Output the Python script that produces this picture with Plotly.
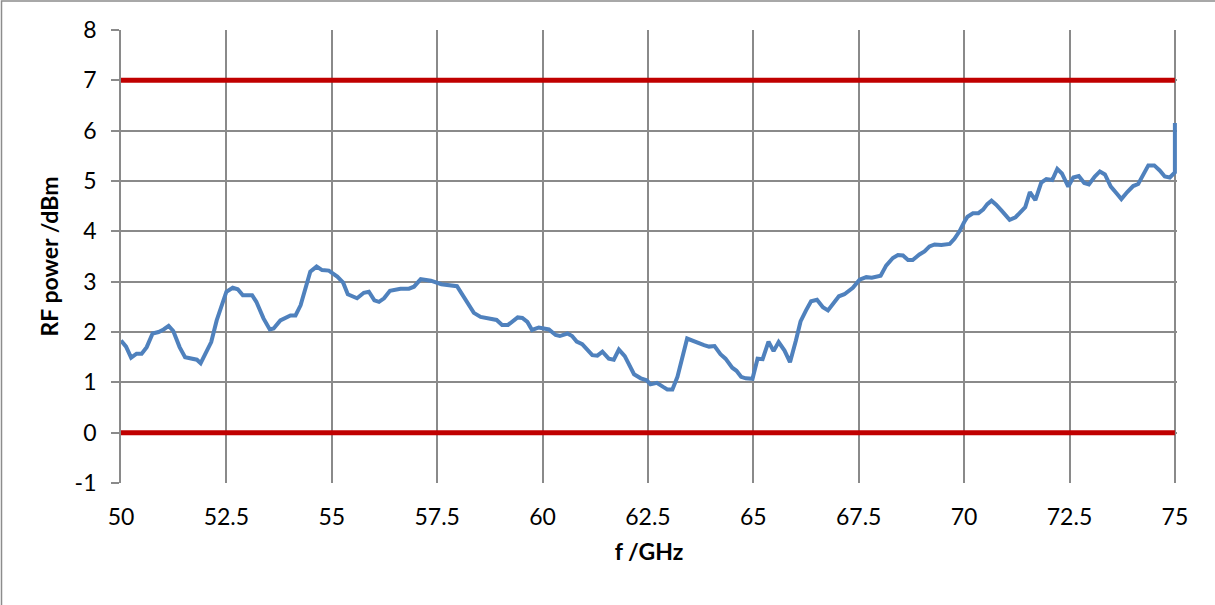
import plotly.graph_objects as go

# ---- data ----
freq_ghz = [
    50.00, 50.12, 50.24, 50.37, 50.49, 50.61, 50.75, 50.89, 51.01, 51.13,
    51.24, 51.39, 51.52, 51.68, 51.80, 51.89, 52.02, 52.14, 52.27, 52.50,
    52.65, 52.77, 52.89, 53.11, 53.21, 53.38, 53.53, 53.62, 53.78, 54.02,
    54.14, 54.26, 54.49, 54.64, 54.77, 54.93, 55.13, 55.27, 55.38, 55.60,
    55.76, 55.88, 56.01, 56.12, 56.24, 56.38, 56.63, 56.83, 56.95, 57.11,
    57.35, 57.60, 57.97, 58.17, 58.37, 58.53, 58.77, 58.91, 59.04, 59.18,
    59.41, 59.52, 59.64, 59.75, 59.91, 60.15, 60.31, 60.41, 60.59, 60.70,
    60.81, 60.94, 61.18, 61.30, 61.42, 61.57, 61.69, 61.81, 61.95, 62.17,
    62.33, 62.47, 62.56, 62.71, 62.86, 62.96, 63.08, 63.20, 63.43, 63.59,
    63.83, 63.95, 64.08, 64.22, 64.34, 64.50, 64.60, 64.71, 64.82, 64.98,
    65.10, 65.22, 65.36, 65.48, 65.60, 65.74, 65.87, 66.01, 66.12, 66.25,
    66.37, 66.51, 66.65, 66.77, 66.91, 67.03, 67.16, 67.36, 67.52, 67.68,
    67.81, 68.02, 68.15, 68.31, 68.43, 68.55, 68.67, 68.78, 68.94, 69.06,
    69.18, 69.30, 69.46, 69.66, 69.77, 69.89, 70.00, 70.08, 70.21, 70.34,
    70.45, 70.55, 70.65, 70.76, 70.90, 71.08, 71.22, 71.34, 71.45, 71.56,
    71.69, 71.83, 71.95, 72.09, 72.21, 72.32, 72.47, 72.59, 72.72, 72.85,
    72.96, 73.10, 73.22, 73.34, 73.48, 73.61, 73.73, 73.87, 74.01, 74.13,
    74.25, 74.37, 74.51, 74.64, 74.76, 74.88, 75.00, 75.00,
]
rf_power_dbm = [
    1.83, 1.71, 1.49, 1.57, 1.57, 1.70, 1.97, 2.00, 2.05, 2.12,
    2.02, 1.70, 1.50, 1.47, 1.45, 1.38, 1.60, 1.80, 2.23, 2.80,
    2.88, 2.85, 2.73, 2.73, 2.60, 2.27, 2.05, 2.07, 2.23, 2.33,
    2.33, 2.53, 3.20, 3.30, 3.23, 3.22, 3.10, 2.98, 2.75, 2.67,
    2.78, 2.80, 2.63, 2.60, 2.67, 2.82, 2.86, 2.86, 2.90, 3.05,
    3.02, 2.95, 2.91, 2.64, 2.38, 2.30, 2.25, 2.24, 2.14, 2.14,
    2.29, 2.28, 2.20, 2.04, 2.09, 2.05, 1.94, 1.92, 1.97, 1.92,
    1.81, 1.76, 1.54, 1.53, 1.61, 1.47, 1.45, 1.65, 1.52, 1.16,
    1.08, 1.04, 0.96, 0.99, 0.91, 0.86, 0.86, 1.11, 1.87, 1.81,
    1.74, 1.71, 1.72, 1.56, 1.47, 1.29, 1.23, 1.11, 1.08, 1.07,
    1.47, 1.46, 1.81, 1.62, 1.80, 1.63, 1.40, 1.83, 2.21, 2.43,
    2.61, 2.64, 2.49, 2.43, 2.57, 2.71, 2.75, 2.88, 3.04, 3.09,
    3.08, 3.12, 3.32, 3.47, 3.53, 3.52, 3.43, 3.43, 3.54, 3.60,
    3.70, 3.74, 3.73, 3.75, 3.85, 4.00, 4.18, 4.29, 4.36, 4.36,
    4.43, 4.54, 4.61, 4.53, 4.40, 4.23, 4.28, 4.38, 4.48, 4.78,
    4.62, 4.97, 5.04, 5.02, 5.24, 5.15, 4.89, 5.07, 5.10, 4.96,
    4.93, 5.09, 5.19, 5.13, 4.89, 4.76, 4.64, 4.78, 4.90, 4.94,
    5.14, 5.31, 5.31, 5.21, 5.09, 5.07, 5.17, 6.15,
]
limit_x = [50, 75]
limit_low = [0, 0]
limit_high = [7, 7]

x_range = [50, 75.05]
x_tickvals = [50, 52.5, 55, 57.5, 60, 62.5, 65, 67.5, 70, 72.5, 75]
x_ticktext = ["50", "52.5", "55", "57.5", "60", "62.5", "65", "67.5", "70", "72.5", "75"]
y_range = [-1, 8]
y_tickvals = [-1, 0, 1, 2, 3, 4, 5, 6, 7, 8]
y_ticktext = ["-1", "0", "1", "2", "3", "4", "5", "6", "7", "8"]

FONT = "Lato, 'Open Sans', sans-serif"
GRID = "#8a8a8a"

fig = go.Figure()
fig.add_trace(go.Scatter(x=limit_x, y=limit_high, mode="lines",
                         line=dict(color="#C00000", width=5), showlegend=False))
fig.add_trace(go.Scatter(x=limit_x, y=limit_low, mode="lines",
                         line=dict(color="#C00000", width=5), showlegend=False))
fig.add_trace(go.Scatter(x=freq_ghz, y=rf_power_dbm, mode="lines",
                         line=dict(color="#4F81BD", width=4), showlegend=False))

fig.update_layout(
    width=1215, height=605,
    margin=dict(l=121, r=38, t=30, b=122, autoexpand=False),
    paper_bgcolor="white", plot_bgcolor="white",
    font=dict(family=FONT, size=23, color="#000000"),
    showlegend=False,
)
fig.update_xaxes(
    range=x_range, tickmode="array", tickvals=x_tickvals, ticktext=x_ticktext,
    showgrid=True, gridcolor=GRID, gridwidth=1.8,
    showline=False, ticks="", zeroline=False, ticklabelstandoff=18,
    title=dict(text="<b>f /GHz</b>", font=dict(family=FONT, size=23), standoff=14),
)
fig.update_yaxes(
    range=y_range, tickmode="array", tickvals=y_tickvals, ticktext=y_ticktext,
    showgrid=True, gridcolor=GRID, gridwidth=1.8,
    showline=True, linecolor=GRID, linewidth=1.8,
    ticks="outside", ticklen=8, tickcolor=GRID, tickwidth=1.8,
    zeroline=False, ticklabelstandoff=10,
    title=dict(text="<b>RF power /dBm</b>", font=dict(family=FONT, size=23), standoff=10),
)

# outer chart-area border (left and top edges visible, bottom/right beyond the frame)
pw, ph = 1215 - 121 - 38, 605 - 30 - 122
fig.add_shape(type="rect", xref="paper", yref="paper",
              x0=(1.5 - 121) / pw, x1=(1225 - 121) / pw,
              y0=-(612 - 30 - ph) / ph, y1=1 + (30 - 1) / ph,
              line=dict(color="#8c8c8c", width=1.5), layer="below")

fig.write_html("out.html", config={"displayModeBar": False},
               post_script="document.body.style.margin='0';")
